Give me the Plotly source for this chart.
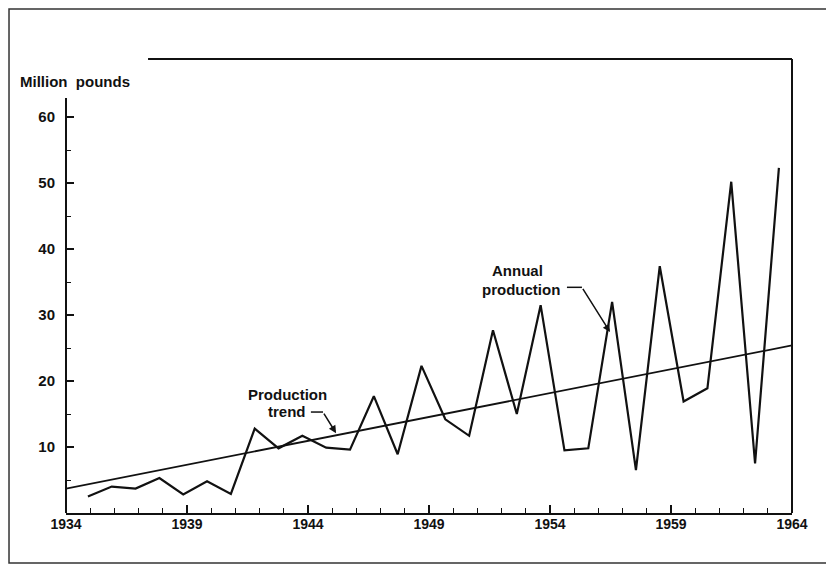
import plotly.graph_objects as go

# ---- data ----
years = list(range(1935, 1965))
production = [2.5, 4.0, 3.7, 5.3, 2.8, 4.8, 2.9, 12.8, 9.8, 11.7,
              9.9, 9.6, 17.7, 8.9, 22.3, 14.2, 11.7, 27.7, 15.0, 31.5,
              9.5, 9.8, 32.0, 6.5, 37.4, 16.9, 18.9, 50.2, 7.5, 52.3]
trend_years = [1934, 1964]
trend_values = [3.7, 25.4]
x_tick_vals = [1934, 1939, 1944, 1949, 1954, 1959, 1964]
x_tick_text = ["1934", "1939", "1944", "1949", "1954", "1959", "1964"]
y_tick_vals = [10, 20, 30, 40, 50, 60]
y_tick_text = ["10", "20", "30", "40", "50", "60"]
y_minor_vals = [5, 15, 25, 35, 45, 55]

FONT = "Liberation Sans"
INK = "#111111"

fig = go.Figure()

# trend line on the ruled axis
fig.add_trace(go.Scatter(x=trend_years, y=trend_values, mode="lines",
                         line=dict(color=INK, width=1.8),
                         xaxis="x", yaxis="y", showlegend=False, hoverinfo="skip"))
# annual production (drawn on an overlaid axis matching the drafted spacing)
fig.add_trace(go.Scatter(x=years, y=production, mode="lines",
                         line=dict(color=INK, width=2.2),
                         xaxis="x2", yaxis="y", showlegend=False))

shapes = [
    # left vertical axis (stops below the top of the frame)
    dict(type="line", xref="paper", yref="y", x0=0, x1=0, y0=0, y1=62.9,
         line=dict(color=INK, width=2)),
    # top rule
    dict(type="line", xref="x", yref="paper", x0=1937.39, x1=1964, y0=1, y1=1,
         line=dict(color=INK, width=2)),
    # right rule
    dict(type="line", xref="paper", yref="paper", x0=1, x1=1, y0=0, y1=1,
         line=dict(color=INK, width=2)),
    # outer frame
    dict(type="rect", xref="paper", yref="paper", x0=-0.0785, x1=1.0537,
         y0=-0.1101, y1=1.1101, line=dict(color="#333333", width=1.5)),
    # leader horizontals
    dict(type="line", xref="x", yref="y", x0=1944.12, x1=1944.62, y0=15.3, y1=15.3,
         line=dict(color=INK, width=1.5)),
    dict(type="line", xref="x", yref="y", x0=1954.70, x1=1955.32, y0=34.2, y1=34.2,
         line=dict(color=INK, width=1.5)),
]

TXT = dict(family=FONT, size=15, color=INK, weight="bold")

annotations = [
    dict(text="Million&nbsp; pounds", xref="paper", yref="paper", x=0.0124, y=0.9515,
         xanchor="center", yanchor="middle", showarrow=False, font=TXT),
    dict(text="Production", xref="x", yref="y", x=1943.17, y=17.95,
         xanchor="center", yanchor="middle", showarrow=False, font=TXT),
    dict(text="trend", xref="x", yref="y", x=1943.13, y=15.4,
         xanchor="center", yanchor="middle", showarrow=False, font=TXT),
    dict(text="Annual", xref="x", yref="y", x=1952.64, y=36.75,
         xanchor="center", yanchor="middle", showarrow=False, font=TXT),
    dict(text="production", xref="x", yref="y", x=1952.80, y=33.9,
         xanchor="center", yanchor="middle", showarrow=False, font=TXT),
    # arrows
    dict(text="", xref="x", yref="y", x=1945.16, y=12.1,
         axref="x", ayref="y", ax=1944.62, ay=15.3,
         showarrow=True, arrowhead=2, arrowsize=1, arrowwidth=1.5,
         arrowcolor=INK, standoff=0, startstandoff=0),
    dict(text="", xref="x", yref="y", x=1956.48, y=27.42,
         axref="x", ayref="y", ax=1955.32, ay=34.2,
         showarrow=True, arrowhead=2, arrowsize=1, arrowwidth=1.5,
         arrowcolor=INK, standoff=0, startstandoff=0),
]

fig.update_layout(
    width=826, height=557,
    margin=dict(l=58, r=42, t=51, b=52, pad=0),
    paper_bgcolor="white", plot_bgcolor="white",
    showlegend=False,
    font=dict(family=FONT, color=INK),
    xaxis=dict(range=[1934, 1964], tickmode="array", tickvals=x_tick_vals,
               ticktext=x_tick_text, ticks="inside", ticklen=8, tickwidth=1.5,
               tickcolor=INK, showline=True, linewidth=2, linecolor=INK,
               showgrid=False, zeroline=False, ticklabelstandoff=-3,
               tickfont=dict(family=FONT, size=14, color=INK, weight="bold"),
               minor=dict(tickmode="linear", tick0=1934, dtick=1, ticks="inside",
                          ticklen=5, tickwidth=1.2, tickcolor=INK, showgrid=False)),
    xaxis2=dict(range=[1934.08, 1964.55], overlaying="x", visible=False,
                showgrid=False, zeroline=False),
    yaxis=dict(range=[0, 68.8], tickmode="array", tickvals=y_tick_vals,
               ticktext=y_tick_text, ticks="inside", ticklen=8, tickwidth=1.5,
               tickcolor=INK, showline=False, showgrid=False, zeroline=False,
               ticklabelstandoff=10,
               tickfont=dict(family=FONT, size=15, color=INK, weight="bold"),
               minor=dict(tickmode="array", tickvals=y_minor_vals, ticks="inside",
                          ticklen=5, tickwidth=1.2, tickcolor=INK, showgrid=False)),
    shapes=shapes,
    annotations=annotations,
)

fig.write_html("out.html")
